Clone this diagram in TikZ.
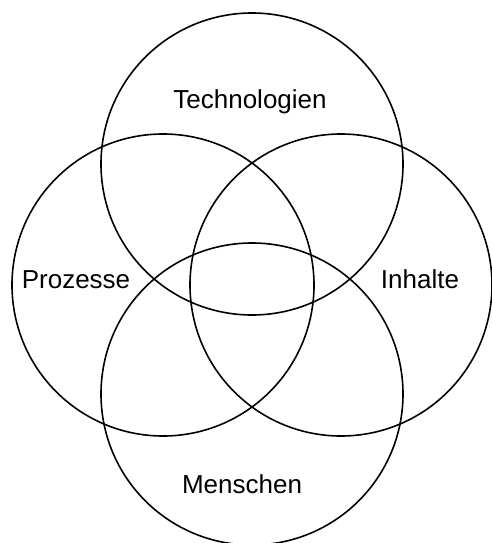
\documentclass[tikz,border=0pt]{standalone}
\usepackage{fontspec}
\setmainfont{Liberation Sans}
\begin{document}
\begin{tikzpicture}[x=1pt,y=-1pt,
  ring/.style={draw=black,line width=1.6pt,circle,minimum size=302pt,inner sep=0pt},
  lab/.style={font=\fontsize{26}{30}\selectfont,anchor=base,inner sep=0pt}]
\useasboundingbox (0,0) rectangle (492,543);
\node[ring] (ctop) at (252,164) {};
\node[ring] (cleft) at (163,285) {};
\node[ring] (cright) at (341,285) {};
\node[ring] (cbot) at (252,394) {};
\node[lab] (t1) at (250,108) {Technologien};
\node[lab] (t2) at (76,288) {Prozesse};
\node[lab] (t3) at (420,288) {Inhalte};
\node[lab] (t4) at (242,493) {Menschen};
\end{tikzpicture}
\end{document}
